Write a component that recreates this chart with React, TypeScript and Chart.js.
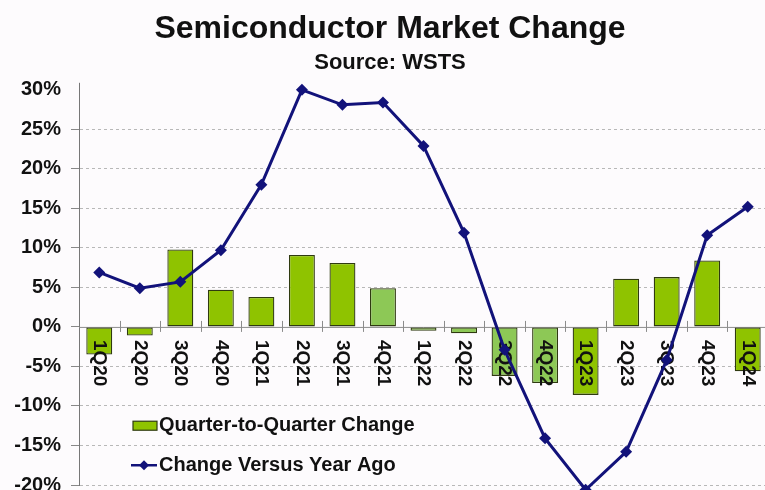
import React, { useEffect, useRef } from 'react';
import { Chart, registerables } from 'chart.js';

Chart.register(...registerables);

const categories = ['1Q20', '2Q20', '3Q20', '4Q20', '1Q21', '2Q21', '3Q21', '4Q21', '1Q22', '2Q22', '3Q22', '4Q22', '1Q23', '2Q23', '3Q23', '4Q23', '1Q24'];
const qoqChange = [-3.5, -1.1, 9.8, 4.7, 3.8, 9.1, 8.1, 4.9, -0.5, -0.8, -6.2, -7.1, -8.6, 6.1, 6.3, 8.4, -5.6];
const yoyChange = [6.9, 4.9, 5.7, 9.7, 18.0, 30.0, 28.1, 28.4, 22.9, 11.9, -2.9, -14.1, -20.6, -15.8, -4.2, 11.6, 15.2];
const yMin = -20;
const yMax = 30;
const yStep = 5;
const seriesNames = ['Quarter-to-Quarter Change', 'Change Versus Year Ago'];

const FONT = "Arial, 'Liberation Sans', Helvetica, sans-serif";
const BAR_MAIN = '#8FC300';
const BAR_LIGHT = '#8DC856';
const BAR_EDGE = '#2f3a10';
const LINE = '#12127a';
const lightIdx = [7, 8, 9, 10, 11];

const overlayPlugin = {
  id: 'overlay',
  beforeDatasetsDraw(chart: any) {
    const { ctx, chartArea, scales } = chart;
    const y0 = scales.y.getPixelForValue(0);
    ctx.save();
    ctx.strokeStyle = '#8c8c8c';
    ctx.lineWidth = 1;
    ctx.setLineDash([]);
    ctx.beginPath();
    ctx.moveTo(chartArea.left, y0 + 0.5);
    ctx.lineTo(chartArea.right, y0 + 0.5);
    ctx.stroke();
    for (let i = 1; i <= categories.length; i++) {
      const x = Math.round(scales.x.getPixelForValue(i - 0.5)) + 0.5;
      ctx.beginPath();
      ctx.moveTo(x, y0 - 6);
      ctx.lineTo(x, y0 + 5);
      ctx.stroke();
    }
    ctx.strokeStyle = '#777';
    ctx.beginPath();
    ctx.moveTo(chartArea.left + 0.5, chartArea.top - 7);
    ctx.lineTo(chartArea.left + 0.5, chartArea.top);
    ctx.stroke();
    ctx.restore();
  },
  beforeDatasetDraw(chart: any, args: any) {
    if (args.meta.type !== 'line') return;
    const { ctx, scales } = chart;
    const y0 = scales.y.getPixelForValue(0);
    ctx.save();
    ctx.font = `bold 19px ${FONT}`;
    ctx.fillStyle = '#111';
    ctx.textAlign = 'left';
    ctx.textBaseline = 'middle';
    chart.data.labels.forEach((lab: string, i: number) => {
      const x = scales.x.getPixelForValue(i);
      ctx.save();
      ctx.translate(x, y0 + 13);
      ctx.rotate(Math.PI / 2);
      ctx.fillText(lab, 0, 0);
      ctx.restore();
    });
    ctx.restore();
  },
  afterDatasetsDraw(chart: any) {
    const { ctx, chartArea, scales } = chart;
    const ds = chart.data.datasets;
    const x0 = chartArea.left + 54;
    const rows = [scales.y.getPixelForValue(-12.5), scales.y.getPixelForValue(-17.5)];
    ctx.save();
    ctx.font = `bold 20px ${FONT}`;
    ctx.textAlign = 'left';
    ctx.textBaseline = 'middle';
    let y = rows[0];
    ctx.fillStyle = BAR_MAIN;
    ctx.fillRect(x0, y - 4.5, 24, 9);
    ctx.strokeStyle = BAR_EDGE;
    ctx.lineWidth = 1.2;
    ctx.strokeRect(x0, y - 4.5, 24, 9);
    ctx.fillStyle = '#111';
    ctx.fillText(ds[0].label, x0 + 26, y);
    y = rows[1];
    ctx.strokeStyle = LINE;
    ctx.lineWidth = 2.5;
    ctx.beginPath();
    ctx.moveTo(x0 - 2, y);
    ctx.lineTo(x0 + 24, y);
    ctx.stroke();
    ctx.fillStyle = LINE;
    ctx.beginPath();
    ctx.moveTo(x0 + 11, y - 5);
    ctx.lineTo(x0 + 16, y);
    ctx.lineTo(x0 + 11, y + 5);
    ctx.lineTo(x0 + 6, y);
    ctx.closePath();
    ctx.fill();
    ctx.fillStyle = '#111';
    ctx.fillText(ds[1].label, x0 + 26, y);
    ctx.restore();
  },
};

export default function App() {
  const ref = useRef<HTMLCanvasElement>(null);
  useEffect(() => {
    if (!ref.current) return;
    const chart = new Chart(ref.current, {
      type: 'bar',
      data: {
        labels: categories,
        datasets: [
          {
            type: 'bar',
            label: seriesNames[0],
            data: qoqChange,
            backgroundColor: qoqChange.map((_, i) => (lightIdx.includes(i) ? BAR_LIGHT : BAR_MAIN)),
            borderColor: BAR_EDGE,
            borderWidth: 1.3,
            borderSkipped: false,
            barPercentage: 0.64,
            categoryPercentage: 1,
            order: 2,
          } as any,
          {
            type: 'line',
            label: seriesNames[1],
            data: yoyChange,
            borderColor: LINE,
            backgroundColor: LINE,
            borderWidth: 3,
            pointStyle: 'rectRot',
            pointRadius: 6,
            pointBackgroundColor: LINE,
            pointBorderColor: LINE,
            pointBorderWidth: 0,
            tension: 0,
            clip: false,
            order: 1,
          } as any,
        ],
      },
      options: {
        animation: false,
        responsive: false,
        maintainAspectRatio: false,
        devicePixelRatio: 1,
        layout: { padding: { left: 12, right: 12, top: 0, bottom: 6 } },
        plugins: {
          legend: { display: false },
          tooltip: { enabled: false },
          title: {
            display: true,
            text: 'Semiconductor Market Change',
            color: '#111',
            font: { family: FONT, size: 32, weight: 'bold' },
            padding: { top: 10, bottom: 1 },
          },
          subtitle: {
            display: true,
            text: 'Source: WSTS',
            color: '#111',
            font: { family: FONT, size: 22, weight: 'bold' },
            padding: { top: 0, bottom: 14 },
          },
        },
        scales: {
          x: {
            type: 'category',
            display: false,
            offset: true,
          },
          y: {
            min: yMin,
            max: yMax,
            afterFit: (s: any) => {
              s.width = 67;
            },
            ticks: {
              stepSize: yStep,
              color: '#111',
              padding: 10,
              font: { family: FONT, size: 20, weight: 'bold' },
              callback: (v: any) => `${v}%`,
            },
            grid: {
              color: (c: any) => (c.tick && (c.tick.value === yMax || c.tick.value === 0) ? 'rgba(0,0,0,0)' : '#b8b8b8'),
              tickColor: (c: any) => (c.tick && c.tick.value === yMax ? 'rgba(0,0,0,0)' : '#888'),
              tickLength: 8,
              tickBorderDash: [],
              lineWidth: 1,
            },
            border: { display: true, color: '#777', width: 1, dash: [3, 3] },
          },
        },
      },
      plugins: [overlayPlugin],
    });
    return () => chart.destroy();
  }, []);
  return (
    <div style={{ position: 'absolute', left: 0, top: 0, width: 765, height: 490, overflow: 'hidden', background: '#fdfbfd' }}>
      <canvas ref={ref} width={780} height={507} style={{ display: 'block', width: 780, height: 507 }} />
    </div>
  );
}
